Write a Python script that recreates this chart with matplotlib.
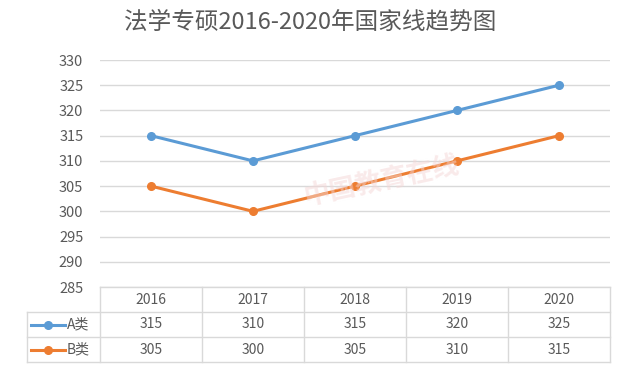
import matplotlib.pyplot as plt
from matplotlib.lines import Line2D

plt.rcParams['font.family'] = ['Noto Sans CJK SC', 'DejaVu Sans']

years = ['2016', '2017', '2018', '2019', '2020']
series_names = ['A类', 'B类']
a_scores = [315, 310, 315, 320, 325]
b_scores = [305, 300, 305, 310, 315]
colors = ['#5B9BD5', '#ED7D31']
grid_c = '#D9D9D9'
text_c = '#595959'

fig = plt.figure(figsize=(6.26, 3.72), dpi=100)
ax = fig.add_axes([100/626, 1-287/372, 510/626, 227/372])

x = list(range(len(years)))
for vals, c in zip([a_scores, b_scores], colors):
    ax.plot(x, vals, color=c, lw=2.2, marker='o', ms=5.5, zorder=3)

ax.set_xlim(-0.5, len(years) - 0.5)
ax.set_ylim(285, 330)
ax.set_yticks(range(285, 331, 5))
ax.tick_params(axis='y', length=0, pad=12, labelsize=10.5, labelcolor=text_c)
ax.set_xticks([])
ax.grid(axis='y', color=grid_c, lw=1)
ax.set_axisbelow(True)
for s in ax.spines.values():
    s.set_visible(False)

# watermark
fig.text(0.61, 0.51, '中国教育在线', fontsize=19, color='#F4D6D6', alpha=0.5,
         rotation=12, ha='center', va='center', fontweight='bold', zorder=0)

fig.text(310/626, 1-22/372, '法学专硕2016-2020年国家线趋势图', fontsize=17,
         color=text_c, ha='center', va='center')

# data table below the plot
col_w = 102
x0 = 100
lab_x0 = 27
rows_y = [287, 312, 337, 362]
px = lambda v: v / 626
py = lambda v: 1 - v / 372

def hline(y, xa, xb):
    fig.add_artist(Line2D([px(xa), px(xb)], [py(y), py(y)], color=grid_c, lw=1))

def vline(xv, ya, yb):
    fig.add_artist(Line2D([px(xv), px(xv)], [py(ya), py(yb)], color=grid_c, lw=1))

hline(rows_y[0], x0, x0 + 5 * col_w)
for yv in rows_y[1:]:
    hline(yv, lab_x0, x0 + 5 * col_w)
vline(lab_x0, rows_y[1], rows_y[3])
for i in range(6):
    vline(x0 + i * col_w, rows_y[0], rows_y[3])

for i, yr in enumerate(years):
    cx = x0 + (i + 0.5) * col_w
    fig.text(px(cx), py((rows_y[0] + rows_y[1]) / 2), yr, fontsize=10,
             color=text_c, ha='center', va='center')
    for r, vals in enumerate([a_scores, b_scores]):
        fig.text(px(cx), py((rows_y[r + 1] + rows_y[r + 2]) / 2), str(vals[i]),
                 fontsize=10, color=text_c, ha='center', va='center')

for r, (name, c) in enumerate(zip(series_names, colors)):
    cy = py((rows_y[r + 1] + rows_y[r + 2]) / 2)
    fig.add_artist(Line2D([px(31), px(65)], [cy, cy], color=c, lw=2.2))
    fig.add_artist(Line2D([px(48)], [cy], color=c, marker='o', ms=5.5))
    fig.text(px(67), cy, name, fontsize=10, color=text_c, ha='left', va='center')

fig.savefig('out.png', dpi=100)
